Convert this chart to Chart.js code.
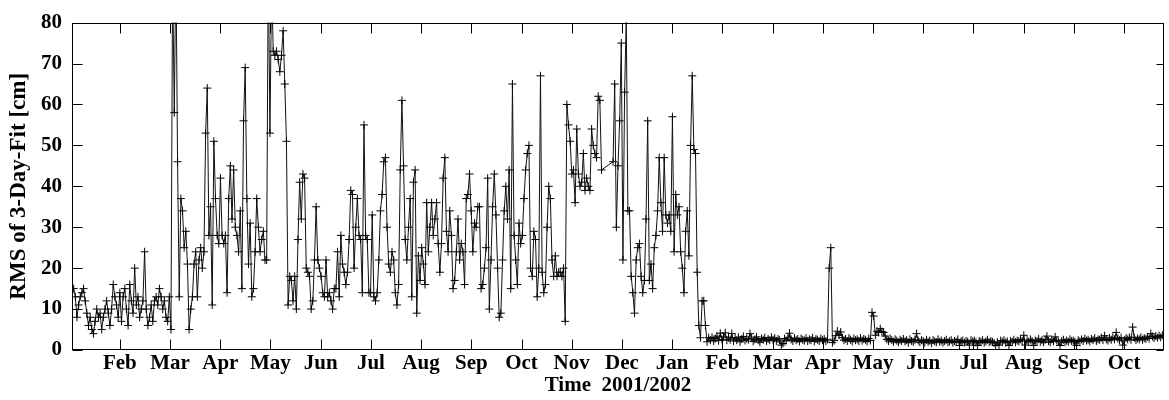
<!DOCTYPE html>
<html>
<head>
<meta charset="utf-8">
<title>RMS of 3-Day-Fit</title>
<script src="https://cdn.jsdelivr.net/npm/chart.js@4/dist/chart.umd.min.js"></script>
<style>
  html, body { margin: 0; padding: 0; background: #fff; }
  canvas { display: block; }
</style>
</head>
<body>
<canvas id="chartRms" width="1169" height="400"></canvas>
<script>
// x axis is in days counted from 2001-01-01 (day 0); month tics are spaced evenly as in the original
const monthLabels = ['Feb', 'Mar', 'Apr', 'May', 'Jun', 'Jul', 'Aug', 'Sep', 'Oct', 'Nov', 'Dec',
                     'Jan', 'Feb', 'Mar', 'Apr', 'May', 'Jun', 'Jul', 'Aug', 'Sep', 'Oct'];
const monthTicks  = [31, 61.4, 91.9, 122.3, 152.8, 183.2, 213.6, 244.1, 274.5, 304.9, 335.4,
                     365.8, 396.3, 426.7, 457.1, 487.6, 518, 548.5, 578.9, 609.3, 639.8];
const yTicks = [0, 10, 20, 30, 40, 50, 60, 70, 80];

const start2001 = 3;   // first value: 2001-01-03
const start2002 = 365; // first value: 2002-01-01

// daily RMS [cm], 2001-01-03 .. 2001-12-31 (null = missing day)
const rms2001 = [
  // Jan
  15, 13, 8, 11, 13, 14, 15, 12, 9, 6, 8, 5, 4, 7, 10, 8, 9, 5, 8, 10, 12, 9, 6, 10, 16, 13, 11, 8,
  // Feb
  14, 7, 13, 15, 10, 6, 16, 12, 9, 20, 11, 13, 8, 10, 12, 24, 10, 6, 8, 11, 7, 12, 13, 11, 15, 13, 10, 12, 8, 7,
  // Mar
  13, 5, 92, 58, 95, 46, 13, 37, 34, 25, 29, 21, 5, 10, 13, 21, 24, 13, 22, 25, 20, 24, 53, 64, 28, 35, 11, 51, 37, 28, 26,
  // Apr
  42, 28, 26, 28, 14, 37, 45, 32, 44, 30, 28, 24, 34, 15, 56, 69, 37, 21, 31, 13, 15, 24, 37, 30, 24, 27, 29, 22, 22, 95,
  // May
  53, 90, 73, 72, 73, 71, 68, 72, 78, 65, 51, 11, 18, 17, 12, 18, 10, 27, 41, 32, 43, 42, 20, 19, 18, 10, 12, 22, 35, 22, 20,
  // Jun
  18, 14, 13, 22, 13, 14, 12, 10, 15, 15, 24, 13, 28, 21, 19, 16, 19, 27, 39, 38, 20, 30, 37, 28, 27, 14, 55, 28, 27, 14,
  // Jul
  14, 33, 13, 12, 14, 22, 34, 38, 46, 47, 30, 21, 19, 24, 22, 14, 11, 16, 44, 61, 45, 27, 22, 30, 37, 13, 41, 44, 9, 23, 17,
  // Aug
  25, 21, 16, 36, 24, 30, 36, 28, 32, 36, 26, 19, 26, 42, 47, 29, 24, 34, 28, 15, 17, 24, 32, 22, 26, 24, 16, 37, 38, 43,
  // Sep
  34, 24, 31, 30, 35, 35, 15, 16, 20, 25, 42, 10, 22, 35, 43, 33, 20, 8, 9, 22, 34, 40, 32, 44, 15, 65, 28, 22, 16, 31,
  // Oct
  26, 28, 37, 44, 48, 50, 20, 18, 29, 27, 13, 20, 67, 19, 14, 16, 30, 40, 37, 22, 18, 23, 18, 19, 19, 18, 20, 7, 60, 55, 51,
  // Nov
  43, 44, 36, 54, 43, 40, 41, 48, 39, 42, 40, 39, 54, 50, 48, 47, 62, 61, 44, null, null, null, null, null, null, 46, 65, 30, 45, 56,
  // Dec
  75, 22, 63, 81, 34, 34, 18, 14, 9, 22, 25, 26, 18, 14, 17, 32, 56, 17, 21, 15, 25, 28, 34, 47, 36, 29, 47, 33, 31, 33
];

// daily RMS [cm], 2002-01-01 .. 2002-10-27
const rms2002 = [
  // Jan
  29, 57, 24, 38, 33, 35, 24, 20, 14, 29, 34, 23, 50, 67, 49, 48, 19, 6, 3, 12, 12, 6, 2, 3, 2.4, 3.1, 2.2, 2.8, 3.4, 2.3, 4.1,
  // Feb
  2.6, 3.2, 4.2, 2.4, 3.0, 2.5, 4.0, 2.2, 2.9, 2.4, 3.1, 2.0, 2.7, 3.3, 2.3, 2.8, 2.5, 4.0, 2.9, 2.1, 2.6, 3.2, 2.4, 1.9, 2.8, 2.5, 3.0, 2.2, 2.7, 2.4, 3.1,
  // Mar
  2.5, 2.9, 2.2, 2.7, 2.4, 1.2, 1.6, 2.8, 2.3, 3.0, 4.1, 2.6, 2.2, 2.9, 2.4, 2.7, 2.1, 2.8, 2.5, 2.3, 2.9, 2.2, 2.6, 2.4, 3.0, 2.1, 2.7, 2.5, 2.2, 2.8,
  // Apr
  2.4, 2.7, 2.2, 2.6, 20, 25, 1.8, 2.3, 3.5, 4.6, 3.6, 4.4, 3.0, 2.4, 2.7, 2.2, 2.9, 2.5, 2.1, 2.8, 2.4, 2.6, 2.2, 2.9, 2.3, 2.7, 2.5, 2.1, 2.8, 2.3,
  // May
  9.2, 8.3, 3.6, 4.6, 4.3, 5.2, 4.5, 4.3, 3.4, 2.6, 2.2, 2.8, 2.4, 2.0, 2.6, 2.3, 1.9, 2.5, 2.2, 2.7, 2.1, 2.4, 1.8, 2.6, 2.2, 2.0, 2.5, 4.0, 2.3, 1.9, 2.4,
  // Jun
  2.2, 1.8, 2.5, 2.0, 2.3, 1.7, 2.4, 2.1, 1.9, 2.6, 2.0, 2.3, 1.8, 2.2, 2.5, 1.9, 2.1, 2.4, 1.8, 2.2, 2.0, 2.6, 1.1, 2.1, 2.3, 1.8, 2.2, 2.0, 1.2, 2.4,
  // Jul
  2.1, 2.3, 1.9, 1.1, 2.2, 2.0, 2.4, 1.8, 2.1, 2.5, 1.9, 2.2, 2.0, 1.7, 1.1, 1.9, 1.2, 2.3, 2.0, 2.4, 1.8, 2.1, 1.1, 2.2, 2.0, 2.5, 1.9, 2.3, 2.1, 2.6, 2.2,
  // Aug
  3.6, 1.2, 2.4, 2.0, 2.6, 2.2, 1.1, 2.3, 2.1, 2.7, 2.0, 2.4, 1.9, 2.5, 3.4, 2.2, 1.9, 2.6, 2.1, 3.2, 2.3, 2.0, 1.1, 2.2, 2.5, 1.9, 2.3, 2.0, 2.6, 2.2,
  // Sep
  2.3, 2.0, 1.1, 2.4, 2.1, 2.6, 2.2, 2.8, 2.3, 2.5, 2.1, 2.7, 2.4, 2.9, 2.2, 2.6, 2.5, 3.0, 2.4, 3.5, 2.6, 2.3, 2.9, 2.5, 3.1, 2.6, 4.3, 2.8, 2.4, 3.0, 1.2,
  // Oct
  2.4, 2.9, 2.6, 3.1, 2.5, 5.6, 3.0, 2.4, 2.8, 2.6, 3.1, 2.5, 2.9, 2.7, 3.2, 2.8, 4.0, 3.3, 2.9, 3.4, 3.0, 3.5, 3.1, 3.6, 3.2
];

const FONT = "'Liberation Serif', 'DejaVu Serif', serif";

const points = [
  ...rms2001.map((v, i) => ({ x: start2001 + i, y: v })),
  ...rms2002.map((v, i) => ({ x: start2002 + i, y: v }))
];

// frame + inward tic marks, gnuplot style
const plotFrame = {
  id: 'plotFrame',
  afterDatasetsDraw(chart) {
    const { ctx, chartArea: a, scales: { x, y } } = chart;
    const L = Math.round(a.left) + 0.5, R = Math.round(a.right) - 0.5;
    const T = Math.round(a.top) + 0.5, B = Math.round(a.bottom) - 0.5;
    ctx.save();
    ctx.strokeStyle = '#000';
    ctx.lineWidth = 1;
    ctx.beginPath();
    monthTicks.forEach(v => {
      const px = Math.round(x.getPixelForValue(v)) + 0.5;
      ctx.moveTo(px, B); ctx.lineTo(px, B - 10);
      ctx.moveTo(px, T); ctx.lineTo(px, T + 10);
    });
    yTicks.forEach(v => {
      const py = Math.round(y.getPixelForValue(v)) + 0.5;
      ctx.moveTo(L, py); ctx.lineTo(L + 10, py);
      ctx.moveTo(R, py); ctx.lineTo(R - 7, py);
    });
    ctx.stroke();
    ctx.strokeRect(L, T, R - L, B - T);
    ctx.restore();
  }
};

new Chart(document.getElementById('chartRms'), {
  type: 'line',
  data: {
    datasets: [{
      data: points,
      borderColor: '#111',
      borderWidth: 1,
      tension: 0,
      spanGaps: true,
      pointStyle: 'cross',
      pointRadius: 4,
      pointBorderWidth: 1,
      pointBorderColor: '#000',
      pointBackgroundColor: '#000'
    }]
  },
  options: {
    responsive: false,
    animation: false,
    events: [],
    layout: { padding: { top: 19, right: 2, left: 0, bottom: 0 } },
    plugins: { legend: { display: false }, tooltip: { enabled: false } },
    scales: {
      x: {
        type: 'linear',
        min: 2,
        max: 664,
        afterBuildTicks: s => { s.ticks = monthTicks.map(v => ({ value: v })); },
        afterFit: s => { s.height = 50; },
        grid: { display: false, drawTicks: false },
        border: { display: false },
        ticks: {
          autoSkip: false, maxRotation: 0, padding: 1, color: '#000',
          font: { family: FONT, size: 21, weight: 'bold' },
          callback: (v, i) => monthLabels[i]
        },
        title: {
          display: true, text: 'Time  2001/2002', color: '#000',
          font: { family: FONT, size: 21, weight: 'bold', lineHeight: 1 },
          padding: { top: 0, bottom: 4 }
        }
      },
      y: {
        min: 0,
        max: 80,
        afterBuildTicks: s => { s.ticks = yTicks.map(v => ({ value: v })); },
        afterFit: s => { s.width = 72; },
        grid: { display: false, drawTicks: false },
        border: { display: false },
        ticks: {
          padding: 10, color: '#000',
          font: { family: FONT, size: 21, weight: 'bold' }
        },
        title: {
          display: true, text: 'RMS of 3-Day-Fit [cm]', color: '#000',
          font: { family: FONT, size: 23, weight: 'bold', lineHeight: 1 },
          padding: { top: 8, bottom: 0 }
        }
      }
    }
  },
  plugins: [plotFrame]
});
</script>
</body>
</html>
